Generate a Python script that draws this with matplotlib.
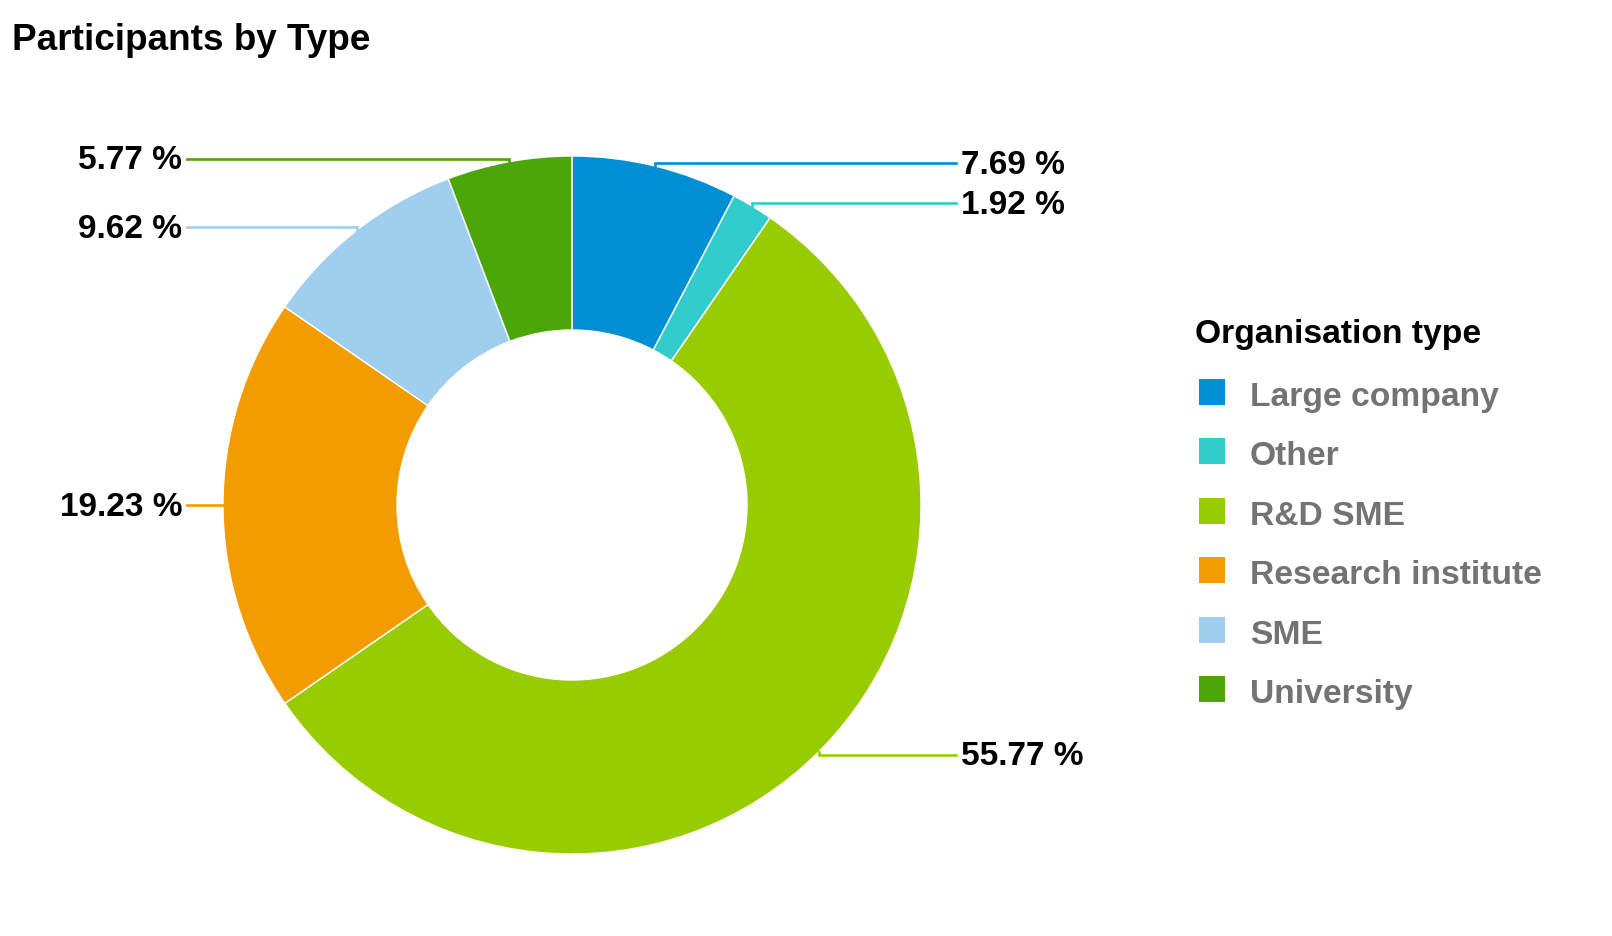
import numpy as np
import matplotlib
matplotlib.use("Agg")
import matplotlib.pyplot as plt
from matplotlib.patches import Rectangle

plt.rcParams["font.family"] = ["Liberation Sans", "DejaVu Sans"]

# Data (clockwise from 12 o'clock).
categories = ["Large company", "Other", "R&D SME", "Research institute", "SME", "University"]
shares = [7.69, 1.92, 55.77, 19.23, 9.62, 5.77]
colors = ["#008fd5", "#33cccc", "#99cc00", "#f39c00", "#a0ceee", "#4ca60a"]

W, H = 1612, 937
CX, CY = 572, 506          # donut centre in pixels (y measured from top)
R_OUT, R_IN = 349, 175


def py(y):
    """pixel-from-top -> axes y"""
    return H - y


fig = plt.figure(figsize=(W / 100, H / 100), dpi=100)
ax = fig.add_axes([0, 0, 1, 1])

ax.pie(shares, colors=colors, startangle=90, counterclock=False,
       radius=R_OUT, center=(CX, py(CY)),
       wedgeprops=dict(width=R_OUT - R_IN, edgecolor="white", linewidth=1))
ax.set_xlim(0, W)
ax.set_ylim(0, H)
ax.set_aspect("auto")
ax.axis("off")

# Leader lines + percentage labels
total = sum(shares)
cum = 0.0
for val, col in zip(shares, colors):
    mid = 90 - (cum + val / 2) / total * 360
    cum += val
    a = np.deg2rad(mid)
    x0 = CX + R_OUT * np.cos(a)
    y0 = CY - R_OUT * np.sin(a)
    ylab = y0 - 3 * np.sign(np.round(np.sin(a), 3))
    if np.cos(a) > 0:
        xs = [x0, x0, 956]
        tx, ha = 961, "left"
    else:
        xs = [x0, x0, 187]
        tx, ha = 182, "right"
    ax.plot(xs, [py(y0), py(ylab), py(ylab)], color=col, lw=1.9,
            solid_joinstyle="miter")
    ax.text(tx, py(ylab + 9.5), f"{val:.2f} %", ha=ha, va="baseline",
            fontsize=24, fontweight="bold", color="black")

# Title
ax.text(12, py(50), "Participants by Type", ha="left", va="baseline",
        fontsize=26.6, fontweight="bold", color="black")

# Legend
ax.text(1195, py(343), "Organisation type", ha="left", va="baseline",
        fontsize=24.2, fontweight="bold", color="black")
for i, (cat, col) in enumerate(zip(categories, colors)):
    base = 406 + i * 59.4
    ax.add_patch(Rectangle((1199, py(base)), 26, 26, facecolor=col,
                           edgecolor="none"))
    ax.text(1250, py(base), cat, ha="left", va="baseline",
            fontsize=24.2, fontweight="bold", color="#737373")

fig.savefig("out.png", dpi=100, facecolor="white")
